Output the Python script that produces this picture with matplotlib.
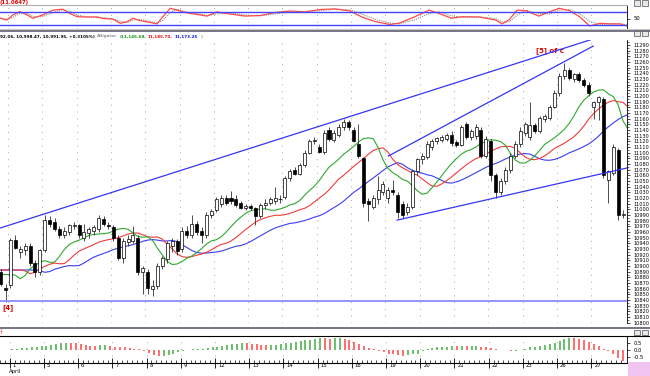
import numpy as np
import pandas as pd
import matplotlib
matplotlib.use('Agg')
import matplotlib.pyplot as plt
from matplotlib.patches import Rectangle

# hourly bars, last two of 31 Mar then 1 Apr .. 27 Apr
opens = [10890, 10862, 10867, 10946, 10925, 10928, 10935, 10905, 10890, 10928,
         10981, 10978, 10966, 10955, 10960, 10970, 10972, 10950, 10958, 10962,
         10965, 10983, 10973, 10968, 10950, 10915, 10942, 10945, 10950, 10890,
         10890, 10860, 10865, 10900, 10912, 10935, 10945, 10930, 10962, 10955,
         10975, 10962, 10955, 10990, 10998, 11010, 11020, 11020, 11018, 11012,
         11003, 11006, 11002, 10988, 11008, 11012, 11015, 11018, 11022, 11055,
         11070, 11063, 11078, 11100, 11120, 11110, 11102, 11140, 11122, 11132,
         11145, 11155, 11140, 11115, 11090, 11015, 11005, 11018, 11030, 11020,
         11035, 11025, 11010, 10995, 11005, 11068, 11088, 11092, 11110, 11120,
         11122, 11124, 11132, 11118, 11114, 11150, 11128, 11130, 11140, 11095,
         11120, 11060, 11030, 11050, 11070, 11095, 11115, 11135, 11128, 11148,
         11138, 11160, 11162, 11180, 11205, 11235, 11245, 11230, 11238, 11228,
         11220, 11180, 11190, 11195, 11052, 11065, 11105, 10990]
highs = [10895, 10868, 10950, 10955, 10935, 10940, 10940, 10910, 10930, 10990,
         10988, 10985, 10970, 10968, 10975, 10978, 10975, 10975, 10968, 10972,
         10990, 10988, 10978, 10972, 10955, 10950, 10955, 10970, 10955, 10900,
         10895, 10875, 10905, 10918, 10945, 10950, 10948, 10968, 10970, 10990,
         10980, 10968, 10995, 11000, 11022, 11025, 11025, 11032, 11025, 11015,
         11010, 11010, 11005, 11012, 11018, 11022, 11040, 11025, 11058, 11072,
         11075, 11082, 11105, 11125, 11128, 11115, 11140, 11145, 11140, 11150,
         11160, 11158, 11145, 11150, 11092, 11020, 11025, 11058, 11050, 11040,
         11052, 11030, 11015, 11012, 11072, 11090, 11100, 11120, 11125, 11128,
         11132, 11135, 11138, 11122, 11148, 11155, 11142, 11150, 11145, 11130,
         11125, 11065, 11055, 11075, 11100, 11120, 11145, 11155, 11190, 11152,
         11165, 11168, 11185, 11210, 11240, 11258, 11250, 11240, 11242, 11232,
         11225, 11192, 11200, 11198, 11070, 11115, 11108, 10998]
lows = [10864, 10837, 10862, 10930, 10915, 10920, 10900, 10880, 10885, 10925,
        10968, 10962, 10950, 10950, 10955, 10965, 10950, 10945, 10950, 10955,
        10960, 10970, 10965, 10945, 10910, 10905, 10935, 10940, 10885, 10850,
        10850, 10848, 10860, 10895, 10905, 10925, 10920, 10925, 10950, 10950,
        10955, 10940, 10950, 10985, 10995, 11005, 11008, 11010, 11005, 11000,
        10998, 10998, 10972, 10985, 11000, 11008, 11010, 11012, 11018, 11050,
        11060, 11060, 11075, 11098, 11115, 11100, 11098, 11120, 11118, 11128,
        11140, 11140, 11118, 11090, 11005, 10980, 11000, 11010, 11025, 11012,
        11025, 10985, 10985, 10990, 11000, 11060, 11080, 11088, 11105, 11115,
        11118, 11120, 11112, 11110, 11112, 11125, 11122, 11125, 11090, 11090,
        11050, 11020, 11025, 11045, 11065, 11090, 11110, 11130, 11122, 11135,
        11135, 11155, 11158, 11178, 11200, 11230, 11228, 11225, 11225, 11215,
        11200, 11160, 11158, 11055, 11012, 11060, 10982, 10985]
closes = [10868, 10857, 10946, 10932, 10930, 10935, 10905, 10890, 10928, 10981,
          10975, 10966, 10955, 10962, 10972, 10973, 10955, 10960, 10965, 10968,
          10985, 10974, 10970, 10950, 10915, 10945, 10948, 10955, 10890, 10897,
          10862, 10865, 10900, 10915, 10940, 10945, 10927, 10962, 10955, 10975,
          10960, 10955, 10990, 10997, 11018, 11020, 11012, 11015, 11008, 11003,
          11006, 11002, 10988, 11008, 11012, 11018, 11020, 11019, 11055, 11068,
          11063, 11078, 11100, 11120, 11123, 11102, 11135, 11125, 11135, 11145,
          11155, 11145, 11120, 11095, 11012, 11010, 11020, 11035, 11045, 11035,
          11030, 10995, 10990, 11005, 11068, 11088, 11095, 11115, 11120, 11126,
          11128, 11132, 11117, 11114, 11145, 11128, 11138, 11145, 11095, 11125,
          11060, 11030, 11050, 11070, 11095, 11115, 11138, 11150, 11148, 11138,
          11162, 11165, 11180, 11205, 11235, 11245, 11232, 11238, 11228, 11220,
          11205, 11190, 11198, 11060, 11068, 11110, 10990, 10992]

day_labels = ['1', '5', '6', '7', '8', '9', '12', '13', '14', '15', '16',
              '19', '20', '21', '22', '23', '26', '27']

# alligator starting levels at the left edge (jaw, teeth, lips)
seed_jaw, seed_teeth, seed_lips = 10893, 10893, 10885

# top oscillator (bar position, value)
osc_x = [-0.1, 1.3, 2.5, 3.9, 5.4, 6.6, 8.6, 10.7, 12.7, 14.1, 15.6, 17.6, 19.7,
         20.9, 22.9, 24.4, 25.8, 27, 28.4, 30.5, 31.9, 33.1, 34.6, 36, 37.2,
         38.6, 40.7, 42.1, 44.1, 46.8, 49.9, 53, 56, 59, 62.1, 65.2, 68.2,
         71.3, 73.7, 76.4, 79.4, 81.4, 84.4, 87.4, 89.4, 92, 94.1, 97.6, 101,
         102.3, 103.7, 105.4, 107.2, 109.8, 111.9, 114, 116.1, 118.1, 120.2,
         122.3, 124.3, 126.4, 127.8]
osc_val = [51, 45, 62, 73, 62, 51, 62, 78, 81, 67, 56, 55, 55, 50, 48, 34, 39,
           51, 43, 37, 32, 56, 84, 78, 72, 67, 62, 58, 72, 65, 58, 60, 70, 75,
           72, 80, 82, 75, 55, 40, 30, 35, 55, 78, 67, 51, 56, 55, 45, 32, 45,
           78, 76, 58, 72, 84, 76, 56, 25, 34, 32, 32, 25]

# lower histogram, one value per bar
hist = [-0.02, 0.02, 0.05, 0.08, 0.12, 0.16, 0.2, 0.24, 0.28, 0.3, 0.35, 0.45,
        0.5, 0.52, 0.5, 0.48, 0.42, 0.38, 0.32, 0.3, 0.33, 0.34, 0.3, 0.25,
        0.2, 0.18, 0.15, 0.1, 0.05, -0.05, -0.2, -0.35, -0.42, -0.4, -0.33,
        -0.25, -0.15, -0.05, 0.02, 0.05, 0.06, 0.1, 0.15, 0.2, 0.25, 0.3, 0.35,
        0.4, 0.45, 0.5, 0.48, 0.45, 0.4, 0.38, 0.36, 0.37, 0.38, 0.42, 0.48,
        0.52, 0.58, 0.62, 0.68, 0.72, 0.78, 0.85, 0.84, 0.82, 0.83, 0.84, 0.8,
        0.75, 0.6, 0.45, 0.3, 0.15, 0.05, -0.05, -0.15, -0.25, -0.3, -0.35,
        -0.4, -0.38, -0.32, -0.25, -0.1, 0.05, 0.12, 0.18, 0.22, 0.25, 0.27,
        0.26, 0.3, 0.28, 0.29, 0.3, 0.25, 0.2, 0.12, 0.05, 0.02, -0.03, -0.08,
        -0.05, 0.0, 0.1, 0.2, 0.25, 0.3, 0.35, 0.42, 0.5, 0.65, 0.78, 0.85,
        0.84, 0.8, 0.72, 0.6, 0.45, 0.3, 0.1, -0.1, -0.3, -0.55, -0.8]

# analyst lines: (bar, price) end points
upper_line = [(-0.13, 10967), (120.3, 11299)]
middle_line = [(79.1, 11094), (120.9, 11288)]
lower_line = [(80.9, 10981), (127.8, 11073)]
support_level = 10838

o = np.array(opens, float)
h = np.array(highs, float)
l = np.array(lows, float)
c = np.array(closes, float)
N = len(c)
idx = np.arange(N)
day_start = np.arange(2, N, 7) - 0.5
XL = (-0.13, 127.8)

W, H = 650, 376
fig = plt.figure(figsize=(W / 100, H / 100), dpi=100)
fig.patch.set_facecolor('white')


def px_axes(x0, y0, x1, y1):
    return fig.add_axes([x0 / W, 1 - y1 / H, (x1 - x0) / W, (y1 - y0) / H])


def smma(vals, n, seed):
    out = np.empty(len(vals))
    prev = seed
    for k, v in enumerate(vals):
        prev = (prev * (n - 1) + v) / n
        out[k] = prev
    return out


grid_kw = dict(color='#a8a8a8', lw=0.7, ls=(0, (1, 6)), zorder=0)

# ---- oscillator strip
ax_osc = px_axes(0, 5, 627, 29)
ax_osc.set_xlim(*XL)
ax_osc.set_ylim(15, 95)
red_osc = pd.Series(osc_val, dtype=float)
ax_osc.plot(osc_x, red_osc.rolling(2, min_periods=1).mean(), color='#8a8a8a',
            lw=0.8, ls=(0, (1, 1)))
ax_osc.plot(osc_x, red_osc, color='#ff4a4a', lw=0.9)
ax_osc.axhline(70, color='#4545ff', lw=1.0)
ax_osc.axhline(30, color='#4545ff', lw=1.0)
for d in day_start:
    ax_osc.axvline(d, **grid_kw)
ax_osc.set_xticks([])
ax_osc.yaxis.tick_right()
ax_osc.set_yticks([50])
ax_osc.set_yticklabels(['50'], fontsize=3.8)
ax_osc.tick_params(axis='y', length=2, width=0.5, pad=3)
for s in ['left', 'top', 'bottom']:
    ax_osc.spines[s].set_visible(False)
ax_osc.spines['right'].set_linewidth(0.6)

# ---- main price panel
ax = px_axes(0, 40, 627, 323)
ax.set_xlim(*XL)
ax.set_ylim(10799.5, 11298.8)
for d in day_start:
    ax.axvline(d, **grid_kw)

med = (h + l) / 2
for n, sh, seed, col in [(13, 8, seed_jaw, '#3c3cf0'), (8, 5, seed_teeth, '#f03c3c'),
                         (5, 3, seed_lips, '#30a830')]:
    line = smma(med, n, seed)
    xs = np.concatenate([np.arange(-1, sh), idx + sh])
    ys = np.concatenate([np.full(sh + 1, seed), line])
    ax.plot(xs, ys, color=col, lw=0.8, zorder=2)

up = c >= o
ax.vlines(idx, l, h, color='#303030', lw=0.6, zorder=3)
body_lo = np.minimum(o, c)
body_h = np.maximum(np.abs(c - o), 1.0)
ax.bar(idx, body_h, bottom=body_lo, width=0.62,
       color=np.where(up, 'white', 'black'), edgecolor='black', lw=0.5, zorder=4)

for seg in (upper_line, middle_line, lower_line):
    (x0, y0), (x1, y1) = seg
    ax.plot([x0, x1], [y0, y1], color='#3535f5', lw=0.9, zorder=5)
ax.axhline(support_level, color='#8c8cff', lw=1.3, zorder=5)

ax.text(0.3, 10826, '[4]', color='#e00000', fontsize=5, fontweight='bold',
        va='center', ha='left')
ax.text(109.3, 11280, '[5] of c', color='#e00000', fontsize=5, fontweight='bold',
        va='center', ha='left')

ax.yaxis.tick_right()
ax.set_yticks(np.arange(10800, 11291, 10))
ax.set_yticklabels([str(v) for v in range(10800, 11291, 10)], fontsize=3.6)
ax.set_yticks(np.arange(10805, 11296, 10), minor=True)
ax.tick_params(axis='y', which='major', length=2.5, width=0.5, pad=2)
ax.tick_params(axis='y', which='minor', length=1.2, width=0.4)
ax.set_xticks([])
for s in ['left', 'top', 'bottom']:
    ax.spines[s].set_visible(False)
ax.spines['right'].set_linewidth(0.6)

# ---- lower histogram
ax_ao = px_axes(0, 336, 627, 362.7)
ax_ao.set_xlim(*XL)
ax_ao.set_ylim(-0.907, 1.0)
hv = np.array(hist)
rising = np.concatenate([[True], hv[1:] >= hv[:-1]])
ax_ao.vlines(idx, 0, hv, colors=np.where(rising, '#52b452', '#ff5454'), lw=1.2)
for d in day_start:
    ax_ao.axvline(d, **grid_kw)
ax_ao.yaxis.tick_right()
ax_ao.set_yticks([0.5, 0.0, -0.5])
ax_ao.set_yticklabels(['0.5', '0.0', '-0.5'], fontsize=3.8)
ax_ao.tick_params(axis='y', length=2, width=0.5, pad=3)
ax_ao.set_xticks(day_start)
ax_ao.set_xticklabels([])
ax_ao.set_xticks(idx - 0.5, minor=True)
ax_ao.tick_params(axis='x', which='major', direction='inout', length=7, width=0.6)
ax_ao.tick_params(axis='x', which='minor', direction='in', length=2.5, width=0.5)
for d, lab in zip(day_start, day_labels):
    ax_ao.text(d + 0.6, -0.12, lab, transform=ax_ao.get_xaxis_transform(),
               fontsize=3.8, ha='left', va='center')
ax_ao.text(day_start[0] - 0.2, -0.32, 'April', transform=ax_ao.get_xaxis_transform(),
           fontsize=3.8, ha='left', va='center')
ax_ao.spines['left'].set_visible(False)
ax_ao.spines['top'].set_visible(False)
ax_ao.spines['bottom'].set_linewidth(0.8)
ax_ao.spines['right'].set_linewidth(0.6)

# ---- frame pieces and header texts
def hline(y, col, lw, x1=W):
    fig.add_artist(plt.Line2D([0, x1 / W], [1 - y / H, 1 - y / H], color=col, lw=lw))

hline(5, '#b0b0b0', 0.8, 627)
hline(28.5, '#c8c8c8', 0.8)
hline(30.5, '#6a6a78', 1.3)
hline(327.5, '#6a6a78', 1.3)
hline(335.7, 'black', 0.8)

fig.text(0, 1 - 2.2 / H, '(11.0647)', color='#e00000', fontsize=3.8,
         fontweight='bold', va='center')
fig.text(0, 1 - 36.5 / H, '92.06, 10,998.47, 10,991.95, +0.3105%)', color='black',
         fontsize=3.0, fontweight='bold', va='center')
for x, txt, col in [(97, 'Alligator', '#909090'), (120, '(11,145.68,', '#109010'),
                    (148, '11,185.70,', '#e01010'), (175, '11,173.25', '#1010e0'),
                    (201, ')', '#909090')]:
    fig.text(x / W, 1 - 36.5 / H, txt, color=col, fontsize=3.0,
             fontweight='bold', va='center')
fig.text(0, 1 - 332 / H, '-)', color='#e00000', fontsize=3.6, va='center')

for x0, y0 in [(634, 0.5), (642, 0.5), (634, 30.5), (642, 30.5), (634, 329.5), (642, 329.5)]:
    fig.add_artist(Rectangle((x0 / W, 1 - (y0 + 5) / H), 6 / W, 5 / H,
                             facecolor='#e8e8e8', edgecolor='#505050', lw=0.5))
fig.add_artist(Rectangle((628 / W, 0), 22 / W, 14 / H, facecolor='#f2c4f2',
                         edgecolor='none'))

fig.savefig('out.png', dpi=100)
